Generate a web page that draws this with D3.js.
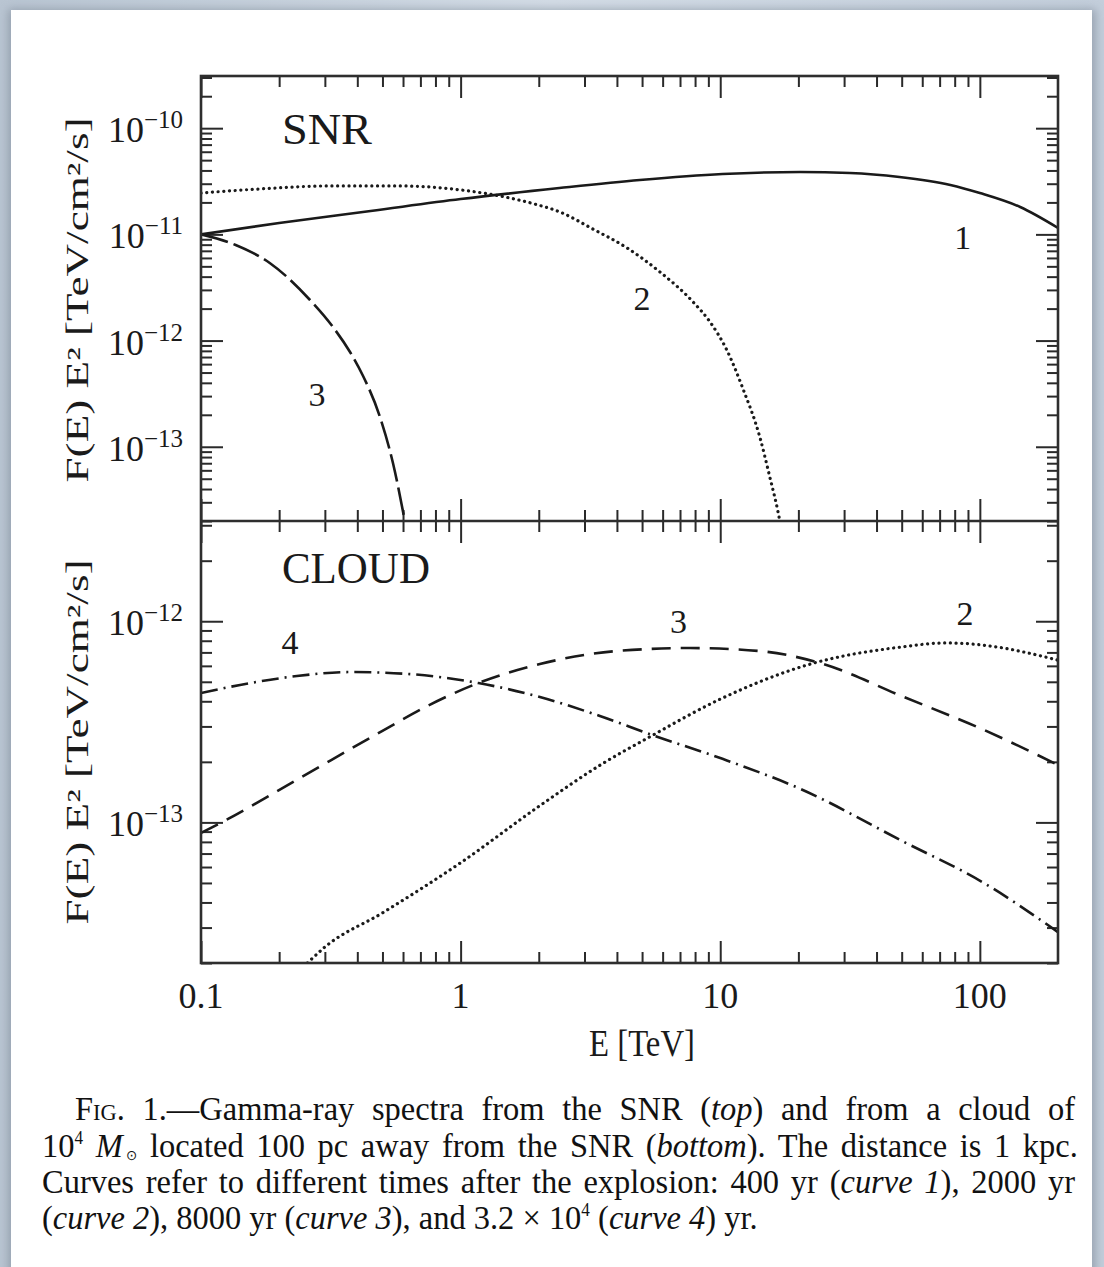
<!DOCTYPE html>
<html>
<head>
<meta charset="utf-8">
<script src="https://cdn.jsdelivr.net/npm/d3@7"></script>
<style>
  html, body { margin: 0; padding: 0; background: #c9d3dd; }
  svg { display: block; }
</style>
</head>
<body>
<div id="chart"></div>
<script>
// ---- data ----
const xMajor = [0.1, 1, 10, 100];
const xTickLabels = ["0.1", "1", "10", "100"];
const snrMajor = [1e-10, 1e-11, 1e-12, 1e-13];
const snrExp = ["\u221210", "\u221211", "\u221212", "\u221213"];
const cloudMajor = [1e-12, 1e-13];
const cloudExp = ["\u221212", "\u221213"];

// SNR panel, [E (TeV), E^2 F(E)]
const snr1 = [[0.1, 1.0e-11], [0.2, 1.28e-11], [0.45, 1.66e-11], [1, 2.15e-11], [2.4, 2.73e-11],
  [4.9, 3.25e-11], [10.2, 3.7e-11], [20.3, 3.87e-11], [31.6, 3.79e-11], [49, 3.47e-11],
  [77, 2.92e-11], [100, 2.45e-11], [143, 1.81e-11], [200, 1.15e-11]];
const snr2 = [[0.1, 2.45e-11], [0.169, 2.68e-11], [0.314, 2.86e-11], [0.584, 2.86e-11],
  [1.0, 2.62e-11], [1.55, 2.2e-11], [1.93, 1.93e-11], [2.42, 1.62e-11], [3.24, 1.12e-11],
  [4.38, 7.44e-12], [5.86, 4.42e-12], [7.86, 2.31e-12], [9.13, 1.5e-12], [10.6, 8.15e-13],
  [12.2, 3.58e-13], [14.2, 1.24e-13], [15.55, 5.1e-14], [16.7, 2.43e-14], [17.0, 1.95e-14]];
const snr3 = [[0.1, 1.0e-11], [0.136, 7.94e-12], [0.184, 5.38e-12], [0.263, 2.41e-12],
  [0.3225, 1.34e-12], [0.375, 7.8e-13], [0.421, 4.64e-13], [0.489, 1.91e-13],
  [0.549, 7.0e-14], [0.611, 1.95e-14]];

// CLOUD panel
const cloud2 = [[0.257, 2e-14], [0.3, 2.4e-14], [0.5, 3.55e-14], [1, 6.3e-14], [2, 1.2e-13],
  [3.5, 1.95e-13], [5.4, 2.68e-13], [10, 4.1e-13], [23, 6.2e-13], [48, 7.4e-13],
  [75, 7.8e-13], [116, 7.45e-13], [150, 7.0e-13], [200, 6.4e-13]];
const cloud3 = [[0.1, 8.86e-14], [0.12, 1.0e-13], [0.24, 1.66e-13], [0.5, 2.85e-13],
  [0.76, 3.84e-13], [1.17, 4.93e-13], [2.02, 6.13e-13], [4.0, 7.11e-13], [7.65, 7.36e-13],
  [14.2, 7.11e-13], [24.2, 6.2e-13], [51, 4.2e-13], [102, 2.91e-13], [200, 1.93e-13]];
const cloud4 = [[0.1, 4.4e-13], [0.155, 4.93e-13], [0.234, 5.34e-13], [0.375, 5.59e-13],
  [0.64, 5.46e-13], [1.17, 4.93e-13], [2.02, 4.2e-13], [3.44, 3.38e-13], [5.46, 2.72e-13],
  [10.2, 2.07e-13], [20.3, 1.47e-13], [51, 8.0e-14], [102, 5.06e-14], [200, 2.85e-14]];

// curve numbers: [text, E, F]
const snrLabels = [["1", 86, 9.4e-12], ["2", 5.0, 2.5e-12], ["3", 0.28, 3.1e-13]];
const cloudLabels = [["4", 0.22, 7.9e-13], ["3", 6.9, 1.0e-12], ["2", 87.7, 1.1e-12]];

// ---- layout ----
const width = 1104;
const height = 1267;
const plotL = 201, plotR = 1058;
const snrTop = 76, mid = 521, cloudBot = 963;
const font = "'Liberation Serif', 'Times New Roman', serif";
const ink = "#1a1a1a";

const svg = d3.select("#chart").append("svg")
    .attr("width", width)
    .attr("height", height);

const defs = svg.append("defs");
const bg = defs.append("linearGradient").attr("id", "bg").attr("x1", 0).attr("x2", 1);
bg.append("stop").attr("offset", 0).attr("stop-color", "#b9c5d2");
bg.append("stop").attr("offset", 0.5).attr("stop-color", "#d3dce6");
bg.append("stop").attr("offset", 1).attr("stop-color", "#c3cedb");
defs.append("filter").attr("id", "shadow").attr("x", -0.1).attr("y", -0.1)
    .attr("width", 1.2).attr("height", 1.2)
    .append("feGaussianBlur").attr("stdDeviation", 5);

svg.append("rect").attr("width", width).attr("height", height).attr("fill", "url(#bg)");
svg.append("rect").attr("x", 8).attr("y", 9).attr("width", 1088).attr("height", 1300)
    .attr("fill", "#7d8896").attr("opacity", 0.6).attr("filter", "url(#shadow)");
svg.append("rect").attr("x", 11).attr("y", 10).attr("width", 1081).attr("height", 1300)
    .attr("fill", "#ffffff");

// scales
const x = d3.scaleLog().domain([0.1, 200]).range([plotL, plotR]);
const ySnr = d3.scaleLog().domain([2e-14, 3.1e-10]).range([mid, snrTop]);
const yCloud = d3.scaleLog().domain([2e-14, 3.15e-12]).range([cloudBot, mid]);

const isMajor = (v, majors) => majors.some(m => Math.abs(m - v) / m < 1e-6);
const xMinor = x.ticks().filter(v => !isMajor(v, xMajor) && v < 199);

function ticks(g, axis, values, size, tx, ty) {
    g.append("g")
        .attr("transform", `translate(${tx}, ${ty})`)
        .attr("color", "#2a2a2a")
        .style("stroke-width", 2)
        .call(axis.tickValues(values).tickSize(size).tickFormat(""))
        .call(s => s.select(".domain").remove());
}

function panel(y, top, bot, majors, name) {
    const g = svg.append("g");
    const yMinor = y.ticks().filter(v => !isMajor(v, majors));
    // x ticks top and bottom, pointing inward
    ticks(g, d3.axisTop(x), xMajor, -22, 0, top);
    ticks(g, d3.axisTop(x), xMinor, -11, 0, top);
    ticks(g, d3.axisBottom(x), xMajor, -22, 0, bot);
    ticks(g, d3.axisBottom(x), xMinor, -11, 0, bot);
    // y ticks left and right
    ticks(g, d3.axisLeft(y), majors, -22, plotL, 0);
    ticks(g, d3.axisLeft(y), yMinor, -11, plotL, 0);
    ticks(g, d3.axisRight(y), majors, -22, plotR, 0);
    ticks(g, d3.axisRight(y), yMinor, -11, plotR, 0);

    defs.append("clipPath").attr("id", "clip-" + name)
        .append("rect").attr("x", plotL).attr("y", top)
        .attr("width", plotR - plotL).attr("height", bot - top);
    return g.append("g").attr("clip-path", `url(#clip-${name})`);
}

function curve(g, data, y, dash, dotted) {
    g.append("path")
        .datum(data)
        .attr("fill", "none")
        .attr("stroke", ink)
        .attr("stroke-width", dotted ? 3.2 : 2.6)
        .attr("stroke-linecap", dotted ? "round" : "butt")
        .attr("stroke-linejoin", "round")
        .attr("stroke-dasharray", dash)
        .attr("d", d3.line()
            .x(d => x(d[0]))
            .y(d => y(d[1]))
            .curve(d3.curveMonotoneX));
}

const gSnr = panel(ySnr, snrTop, mid, snrMajor, "snr");
curve(gSnr, snr1, ySnr, null);
curve(gSnr, snr2, ySnr, "0.1,5.6", true);
curve(gSnr, snr3, ySnr, "28,6");

const gCloud = panel(yCloud, mid, cloudBot, cloudMajor, "cloud");
curve(gCloud, cloud2, yCloud, "0.1,5.6", true);
curve(gCloud, cloud3, yCloud, "19,10");
curve(gCloud, cloud4, yCloud, "17,6,2,6");

// frame
svg.append("rect")
    .attr("x", plotL).attr("y", snrTop)
    .attr("width", plotR - plotL).attr("height", cloudBot - snrTop)
    .attr("fill", "none").attr("stroke", "#2e2e2e").attr("stroke-width", 2.6);
svg.append("line")
    .attr("x1", plotL).attr("x2", plotR).attr("y1", mid).attr("y2", mid)
    .attr("stroke", "#2e2e2e").attr("stroke-width", 2.6);

// y tick labels 10^n
function yLabels(y, majors, exps) {
    const t = svg.append("g").selectAll("text")
        .data(majors)
        .enter()
        .append("text")
        .attr("x", 183)
        .attr("y", d => y(d) + 14)
        .attr("text-anchor", "end")
        .style("font-family", font)
        .attr("fill", ink);
    t.append("tspan").style("font-size", "36px").text("10");
    t.append("tspan").style("font-size", "25px").attr("dy", -14).text((d, i) => exps[i]);
}
yLabels(ySnr, snrMajor, snrExp);
yLabels(yCloud, cloudMajor, cloudExp);

// x tick labels
svg.append("g").selectAll("text")
    .data(xMajor)
    .enter()
    .append("text")
    .attr("x", d => x(d))
    .attr("y", 1008)
    .attr("text-anchor", "middle")
    .style("font-family", font)
    .style("font-size", "36px")
    .attr("fill", ink)
    .text((d, i) => xTickLabels[i]);

svg.append("text")
    .attr("x", 642).attr("y", 1056)
    .attr("text-anchor", "middle")
    .attr("textLength", 106).attr("lengthAdjust", "spacingAndGlyphs")
    .style("font-family", font).style("font-size", "38px")
    .attr("fill", ink)
    .text("E [TeV]");

// y axis titles, one per panel
[300, 742].forEach(cy => {
    svg.append("text")
        .attr("transform", `translate(88, ${cy}) rotate(-90)`)
        .attr("text-anchor", "middle")
        .attr("textLength", 365).attr("lengthAdjust", "spacingAndGlyphs")
        .style("font-family", font).style("font-size", "31px")
        .attr("fill", ink)
        .text("F(E) E\u00b2 [TeV/cm\u00b2/s]");
});

// panel titles and curve numbers
function note(y, txt, E, F, size, len, anchor) {
    const t = svg.append("text")
        .attr("x", x(E)).attr("y", y(F))
        .attr("dy", "0.35em")
        .attr("text-anchor", anchor || "middle")
        .style("font-family", font).style("font-size", size + "px")
        .attr("fill", ink)
        .text(txt);
    if (len) t.attr("textLength", len).attr("lengthAdjust", "spacingAndGlyphs");
}
note(ySnr, "SNR", 0.205, 1.0e-10, 44, 90, "start");
note(yCloud, "CLOUD", 0.205, 1.84e-12, 44, 148, "start");
snrLabels.forEach(d => note(ySnr, d[0], d[1], d[2], 34));
cloudLabels.forEach(d => note(yCloud, d[0], d[1], d[2], 34));

// caption: slightly condensed Times, justified by word spacing
const squeeze = 0.955;
const cap = svg.append("g")
    .attr("transform", `scale(${squeeze}, 1)`)
    .style("font-family", font)
    .style("font-size", "34px")
    .attr("fill", "#111");

function capLine(x0, y0, parts, target) {
    const t = cap.append("text").attr("x", x0 / squeeze).attr("y", y0);
    parts.forEach(p => {
        const s = t.append("tspan").text(p.t);
        if (p.i) s.style("font-style", "italic");
        if (p.sc) s.style("font-variant", "small-caps");
        if (p.dy) s.attr("dy", p.dy);
        if (p.dx) s.attr("dx", p.dx);
        if (p.fs) s.style("font-size", p.fs + "px");
    });
    if (target) {
        const node = t.node();
        const natural = node.getComputedTextLength();
        const want = target / squeeze;
        if (natural > want) {
            t.attr("textLength", want).attr("lengthAdjust", "spacingAndGlyphs");
        } else {
            const gaps = node.textContent.split(" ").length - 1;
            t.style("word-spacing", ((want - natural) / gaps) + "px");
        }
    }
}

capLine(75, 1120, [
    { t: "Fig. 1.\u2014", sc: true },
    { t: "Gamma-ray spectra from the SNR (" },
    { t: "top", i: true },
    { t: ") and from a cloud of" }
], 1000);
capLine(42, 1157, [
    { t: "10" },
    { t: "4", dy: -13, fs: 18 },
    { t: " ", dy: 13 },
    { t: "M", i: true },
    { t: "\u2299", dy: 3, dx: 3, fs: 14 },
    { t: " located 100 pc away from the SNR (", dy: -3 },
    { t: "bottom", i: true },
    { t: "). The distance is 1 kpc." }
], 1033);
capLine(42, 1193, [
    { t: "Curves refer to different times after the explosion: 400 yr (" },
    { t: "curve 1", i: true },
    { t: "), 2000 yr" }
], 1033);
capLine(42, 1229, [
    { t: "(" },
    { t: "curve 2", i: true },
    { t: "), 8000 yr (" },
    { t: "curve 3", i: true },
    { t: "), and 3.2 \u00d7 10" },
    { t: "4", dy: -13, fs: 18 },
    { t: " (", dy: 13 },
    { t: "curve 4", i: true },
    { t: ") yr." }
]);
</script>
</body>
</html>
